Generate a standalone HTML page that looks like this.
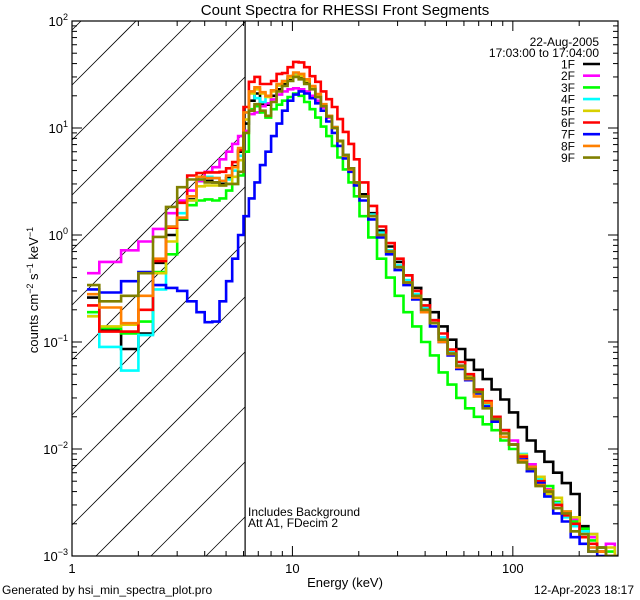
<!DOCTYPE html>
<html><head><meta charset="utf-8"><style>
html,body{margin:0;padding:0;background:#fff;width:640px;height:600px;overflow:hidden;}
svg{display:block;font-family:"Liberation Sans",sans-serif;}
</style></head><body>
<svg id="chart" width="640" height="600" viewBox="0 0 640 600" xmlns="http://www.w3.org/2000/svg">
<rect width="640" height="600" fill="#fff"/>
<text x="345" y="15" font-size="15" text-anchor="middle">Count Spectra for RHESSI Front Segments</text>
<text x="345" y="587" font-size="13" text-anchor="middle">Energy (keV)</text>
<text transform="translate(38,290) rotate(-90)" font-size="13" text-anchor="middle">counts cm<tspan dy="-5" font-size="9">−2</tspan><tspan dy="5"> s</tspan><tspan dy="-5" font-size="9">−1</tspan><tspan dy="5"> keV</tspan><tspan dy="-5" font-size="9">−1</tspan></text>
<text x="2" y="594" font-size="12">Generated by hsi_min_spectra_plot.pro</text>
<text x="634" y="594" font-size="12" text-anchor="end">12-Apr-2023 18:17</text>
<text x="248" y="516" font-size="12">Includes Background</text>
<text x="248" y="527" font-size="12">Att A1, FDecim 2</text>
<text x="599" y="46" font-size="12" text-anchor="end">22-Aug-2005</text>
<text x="599" y="57" font-size="12" text-anchor="end">17:03:00 to 17:04:00</text>
<g id="marks"></g>
</svg>
<script>
const edges=[1.17,1.33,1.67,2,2.33,2.67,3,3.33,3.67,4,4.33,4.67,5,5.33,5.67,6.0,
6.35,6.73,7.13,7.55,8.0,8.48,8.98,9.51,10.08,10.68,11.31,11.98,12.7,13.45,14.25,15.1,16.0,16.95,17.96,19.03,20.16,
22.1,24.2,26.6,29.1,31.9,35.0,38.4,42.1,46.1,50.6,55.4,60.8,66.6,73.0,80.1,87.8,96.2,105.5,115.7,126.8,139,152.4,167,183.1,200.8,220.1,241.3,264.5,290,318];
const seriesNames=["1F","2F","3F","4F","5F","6F","7F","8F","9F"];
const seriesColors=["#000000","#ff00ff","#00ff00","#00ffff","#d8d000","#ff0000","#0000ff","#ff8000","#808000"];
const s1F=[0.26,0.128,0.086,0.12,0.55,1.0,1.4,2.15,3.2,3.2,3.1,3.0,3.4,4.4,6.0,
11,18,21,16.5,16.5,20,23,26,28.5,31,30,27,23.5,19.5,16,12.8,10,7.6,5.6,4.2,3.1,
2.4,1.6,1.1,0.78,0.56,0.42,0.32,0.25,0.19,0.14,0.105,0.086,0.068,0.055,0.045,0.036,0.029,0.022,0.016,0.012,0.0095,0.0076,0.006,0.0048,0.0038,0.0019,0.0016,0.0012,0.001,0.0009];
const s2F=[0.44,0.56,0.72,0.87,1.14,1.6,2.1,2.6,3.2,3.9,4.3,5.1,6.0,7.1,8.4,
9.4,13.5,14,16,17,18.5,20.5,22,23,23.5,23,22,20,18,15.5,12.5,10,7.6,5.6,4.2,3.1,
2.3,1.5,1.0,0.72,0.5,0.37,0.27,0.2,0.15,0.11,0.08,0.06,0.046,0.035,0.026,0.02,0.015,0.012,0.0085,0.0072,0.0055,0.0042,0.0032,0.0025,0.0022,0.0017,0.0015,0.0012,0.0013,0.001];
const s3F=[0.19,0.135,0.12,0.155,0.45,0.66,1.43,1.9,2.1,2.15,2.1,2.2,2.6,3.0,3.6,
6,15,16,14,12.5,15,16.5,18,19.5,21,20,17.5,15,12.5,10.3,8.4,6.8,5.3,4.1,3.1,2.3,
1.5,0.95,0.6,0.4,0.27,0.19,0.14,0.1,0.075,0.052,0.04,0.03,0.024,0.02,0.017,0.015,0.012,0.01,0.0085,0.0068,0.0052,0.0045,0.0032,0.0026,0.0021,0.0018,0.0014,0.0012,0.0011,0.0009];
const s4F=[0.175,0.09,0.054,0.116,0.31,1.2,1.6,2.1,3.3,3.5,3.4,3.2,3.3,4.0,5.5,
14,22,19,17.5,20,22.5,25,27.5,30,31.5,31,28,24,20.5,16.5,13,10.2,7.6,5.6,4.1,3.1,
2.3,1.55,1.05,0.72,0.52,0.38,0.28,0.21,0.16,0.11,0.08,0.065,0.048,0.036,0.026,0.02,0.015,0.011,0.009,0.0062,0.0052,0.0036,0.0031,0.0023,0.0019,0.0017,0.0012,0.0011,0.0009,0.0008];
const s5F=[0.174,0.14,0.145,0.44,0.44,0.87,1.45,2.1,2.85,2.9,2.9,2.9,3.0,3.5,5.0,
12,21,23,21,19.5,22,25,27,29.5,31,30.5,27.5,24,20,16.5,12.8,10,7.5,5.5,4.1,3.0,
2.3,1.5,1.0,0.7,0.5,0.36,0.27,0.2,0.15,0.105,0.078,0.058,0.047,0.033,0.027,0.018,0.015,0.011,0.0088,0.0065,0.0055,0.0038,0.0035,0.0024,0.0023,0.0016,0.0016,0.0011,0.0012,0.0009];
const s6F=[0.22,0.125,0.125,0.2,0.57,1.17,2.0,3.6,3.8,3.85,3.85,3.9,4.2,4.8,6.2,
15.7,27,30,25.8,25.8,27.5,32,32.6,37,41.5,41,37,30.5,27,22,18.6,15.7,12.1,9.2,7.1,5.1,
3.1,1.87,1.2,0.84,0.6,0.42,0.3,0.22,0.16,0.12,0.085,0.065,0.05,0.036,0.028,0.02,0.015,0.011,0.0085,0.0065,0.005,0.004,0.003,0.0024,0.002,0.0015,0.0013,0.0011,0.0009,0.001];
const s7F=[0.31,0.29,0.37,0.45,0.34,0.32,0.30,0.24,0.19,0.153,0.155,0.24,0.37,0.6,1.0,
1.5,2.2,3.1,4.5,6.0,8.4,11,14.5,18,20.5,22,21,19,17,14.5,11.5,9,6.8,5.2,3.9,2.9,
2.1,1.4,0.95,0.66,0.47,0.34,0.25,0.19,0.14,0.1,0.075,0.056,0.044,0.033,0.025,0.018,0.013,0.011,0.008,0.0062,0.0048,0.0036,0.0025,0.0021,0.0015,0.0013,0.0011,0.0009,0.0008,0.0008];
const s8F=[0.28,0.21,0.15,0.27,0.6,1.2,1.45,2.3,3.5,3.4,3.4,3.2,3.6,4.3,6.5,
14,22,24,21.6,20,22.5,25.8,27.5,30.6,33,32,28.5,24.7,20.8,16.7,13,10.2,7.6,5.5,4.1,3.1,
2.3,1.5,1.0,0.7,0.5,0.36,0.26,0.19,0.15,0.1,0.077,0.058,0.045,0.031,0.027,0.019,0.013,0.011,0.0078,0.0068,0.0046,0.0041,0.0028,0.0026,0.0017,0.0016,0.0012,0.0011,0.0009,0.0009];
const s9F=[0.34,0.24,0.27,0.44,0.96,1.83,2.8,3.3,3.3,3.1,3.1,2.9,3.0,3.0,3.9,
9,14.5,16.7,14.5,13,17.5,22,24.7,27.5,30,28.5,25.8,23,19.5,16,12.8,10,7.6,5.6,4.2,3.1,
2.3,1.5,1.0,0.7,0.5,0.36,0.27,0.2,0.15,0.105,0.078,0.06,0.046,0.034,0.024,0.019,0.014,0.011,0.0075,0.0065,0.0045,0.004,0.0028,0.0025,0.0017,0.0016,0.0011,0.0012,0.0009,0.0009];
const seriesValues=[s1F,s2F,s3F,s4F,s5F,s6F,s7F,s8F,s9F];
const xTickValues=[1,10,100];
const xTickLabels=["1","10","100"];
const yTickExponents=[-3,-2,-1,0,1,2];
const cutoffEnergy=6.1;

const NS="http://www.w3.org/2000/svg";
const L=72,R=618,T=21,B=556;
const xMin=1,xMax=300,yMin=1e-3,yMax=1e2;
function xs(e){return L+(Math.log10(e)-Math.log10(xMin))/(Math.log10(xMax)-Math.log10(xMin))*(R-L);}
function ys(v){return B-(Math.log10(v)-Math.log10(yMin))/(Math.log10(yMax)-Math.log10(yMin))*(B-T);}
function yc(v){return Math.max(T,Math.min(B,ys(v)));}
const svg=document.getElementById('chart');
const g=document.getElementById('marks');
function mk(tag,attrs,parent){const e=document.createElementNS(NS,tag);for(const k in attrs)e.setAttribute(k,attrs[k]);(parent||g).appendChild(e);return e;}

const defs=mk('defs',{});
const cp=mk('clipPath',{id:'plotclip'},defs);
mk('rect',{x:L,y:T,width:R-L,height:B-T},cp);
const cx=xs(cutoffEnergy);

const hatch=mk('g',{stroke:'#000','stroke-width':'0.8'});


for(let c=102;c<=820;c+=55){
  const xa=Math.max(L,c-B),xb=Math.min(cx,c-T);
  if(xb>xa) mk('line',{x1:xa,y1:c-xa,x2:xb,y2:c-xb},hatch);
}

const cut=mk('line',{x1:cx,y1:T,x2:cx,y2:B,stroke:'#000','stroke-width':'1.2'});



const sg=mk('g',{'clip-path':'url(#plotclip)',fill:'none','stroke-width':'2.6','stroke-linejoin':'miter'});
seriesValues.forEach((vals,si)=>{
  let d='';
  for(let i=0;i<vals.length;i++){
    const x0=xs(edges[i]),x1=Math.min(R,xs(edges[i+1])),y=yc(vals[i]);
    d+=(i===0?'M':'L')+x0.toFixed(1)+','+y.toFixed(1)+'L'+x1.toFixed(1)+','+y.toFixed(1);
  }
  const p=mk('path',{d:d,stroke:seriesColors[si]},sg);
  
  
});

const frame=mk('rect',{x:L,y:T,width:R-L,height:B-T,fill:'none',stroke:'#000','stroke-width':'1.2'});



const ax=mk('g',{stroke:'#000','stroke-width':'1'});


for(let dec=1;dec<=100;dec*=10){
  for(let m=1;m<=9;m++){
    const e=dec*m; if(e>xMax)break;
    const x=xs(e),len=(m===1)?10:5;
    mk('line',{x1:x,y1:B,x2:x,y2:B-len},ax);
    mk('line',{x1:x,y1:T,x2:x,y2:T+len},ax);
  }
}
for(let ex=-3;ex<2;ex++){
  for(let m=1;m<=9;m++){
    const y=ys(m*Math.pow(10,ex)),len=(m===1)?10:5;
    mk('line',{x1:L,y1:y,x2:L+len,y2:y},ax);
    mk('line',{x1:R,y1:y,x2:R-len,y2:y},ax);
  }
}
{const y=ys(100);mk('line',{x1:L,y1:y,x2:L+10,y2:y},ax);mk('line',{x1:R,y1:y,x2:R-10,y2:y},ax);}

xTickValues.forEach((v,i)=>{
  const t=mk('text',{x:xs(v),y:B+17,'font-size':'13','text-anchor':'middle'});
  
  
  t.textContent=xTickLabels[i];
});
yTickExponents.forEach(ex=>{
  const t=mk('text',{x:L-4,y:ys(Math.pow(10,ex))+5,'font-size':'13','text-anchor':'end'});
  
  
  const a=document.createElementNS(NS,'tspan');a.textContent='10';t.appendChild(a);
  const b=document.createElementNS(NS,'tspan');b.setAttribute('dy','-6');b.setAttribute('font-size','9');b.textContent=(ex<0?'−':'')+Math.abs(ex);t.appendChild(b);
});

seriesNames.forEach((n,i)=>{
  const y=64+i*11.7;
  const lg=mk('g',{});
  
  
  const t=mk('text',{x:575,y:y+4.5,'font-size':'12','text-anchor':'end'},lg);
  t.textContent=n;
  mk('line',{x1:583,y1:y,x2:600,y2:y,stroke:seriesColors[i],'stroke-width':'2.6'},lg);
});
</script>
</body></html>
